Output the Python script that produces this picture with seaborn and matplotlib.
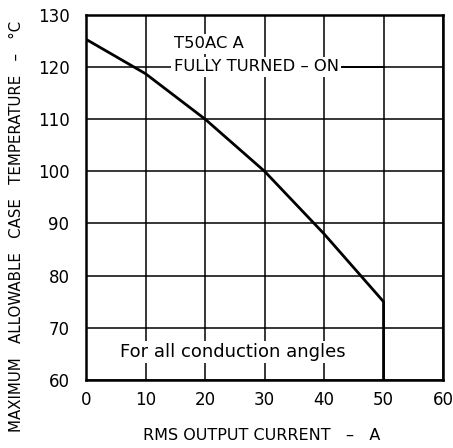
import matplotlib
matplotlib.use("Agg")
import matplotlib.pyplot as plt
import pandas as pd
import seaborn as sns

# curve (RMS current in A, case temp in degC)
current = [0, 10, 20, 30, 40, 45, 50, 50]
case_temp = [125.3, 118.7, 110, 100, 88, 81.5, 75, 60]

x_ticks = [0, 10, 20, 30, 40, 50, 60]
y_ticks = [60, 70, 80, 90, 100, 110, 120, 130]

sns.set_style("white")
plt.rcParams["font.family"] = ["DejaVu Sans"]
plt.rcParams["text.color"] = "black"
plt.rcParams["axes.labelcolor"] = "black"

df = pd.DataFrame({"current": current, "temp": case_temp})

fig = plt.figure(figsize=(4.53, 4.48), dpi=100)
ax = fig.add_axes([0.19, 0.152, 0.788, 0.815])

for v in x_ticks:
    ax.axvline(v, color="black", lw=1.1, zorder=1)
for v in y_ticks:
    ax.axhline(v, color="black", lw=1.1, zorder=1)

sns.lineplot(data=df, x="current", y="temp", sort=False, estimator=None,
             color="black", lw=2.0, ax=ax, zorder=3)

ax.set_xlim(0, 60)
ax.set_ylim(60, 130)
ax.set_xticks(x_ticks)
ax.set_yticks(y_ticks)
ax.tick_params(length=0, labelsize=12, colors="black")
ax.tick_params(axis="x", pad=8)
ax.tick_params(axis="y", pad=12)
for s in ax.spines.values():
    s.set_color("black")
    s.set_linewidth(1.8)

ax.set_xlabel("RMS OUTPUT CURRENT   –   A", fontsize=11.5)
ax.xaxis.set_label_coords(0.493, -0.131)
ax.set_ylabel("MAXIMUM   ALLOWABLE   CASE   TEMPERATURE   –   °C", fontsize=10.8)
ax.yaxis.set_label_coords(-0.175, 0.42)

box = dict(facecolor="white", edgecolor="none", pad=1.5)
ax.text(14.7, 124.4, "T50AC A", fontsize=11.8, va="center", ha="left", bbox=box, zorder=4)
ax.text(14.7, 120, "FULLY TURNED – ON", fontsize=11.8, va="center", ha="left", bbox=box, zorder=4)
ax.plot([43, 50], [120, 120], color="black", lw=1.4, zorder=2)
ax.text(24.6, 65.3, "For all conduction angles", fontsize=13, va="center", ha="center",
        bbox=box, zorder=4)

fig.savefig("out.png", dpi=100)
